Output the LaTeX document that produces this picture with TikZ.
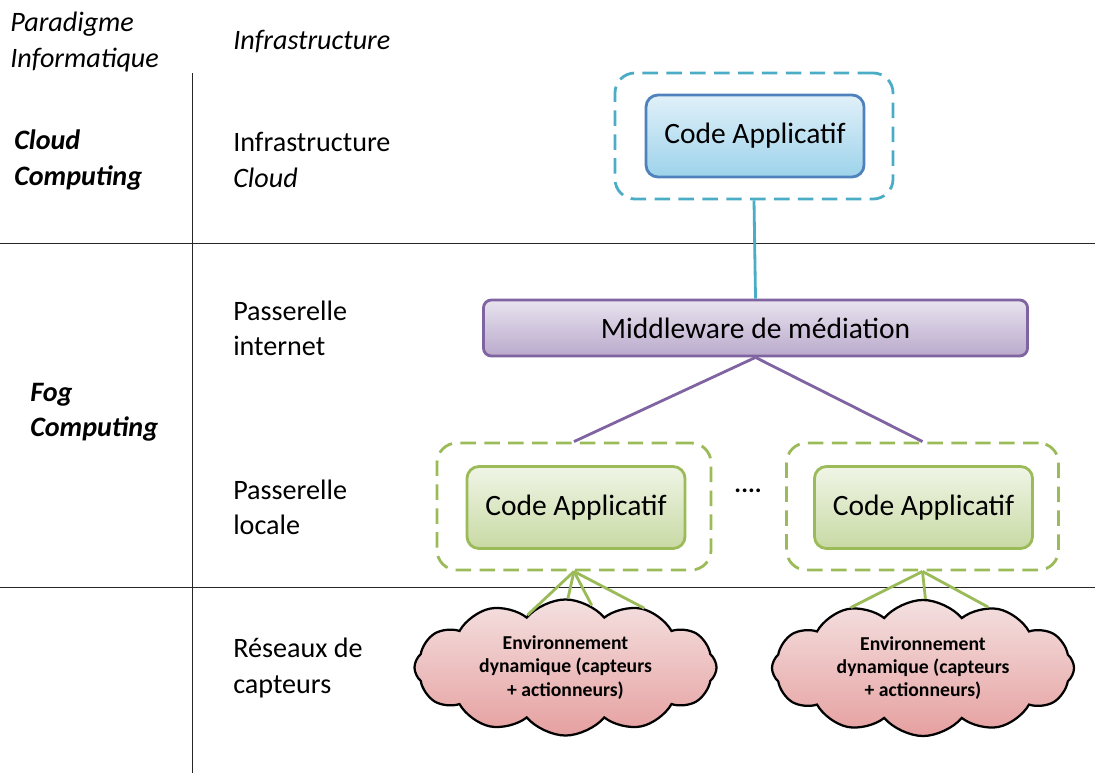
\documentclass[tikz,border=0pt]{standalone}
\usepackage{fontspec}
\setmainfont{Carlito}
\usetikzlibrary{shapes.symbols}
\definecolor{cloudline}{HTML}{4BACC6}
\definecolor{appblue}{HTML}{4F81BD}
\definecolor{apptop}{HTML}{E0F0F9}
\definecolor{appbot}{HTML}{9DD3EA}
\definecolor{mwline}{HTML}{8064A2}
\definecolor{fogline}{HTML}{9BBB59}
\definecolor{envtop}{HTML}{F4E0E0}
\definecolor{envbot}{HTML}{E6A0A0}
\tikzset{
    sep/.style = {line width=0.7pt,black!85},
    layer/.style = {anchor=west,align=left,inner sep=0,font=\fontsize{20}{25}\selectfont},
    grp/.style = {draw,rounded corners=0.5cm,line width=2pt,dash pattern=on 11pt off 6pt},
    app/.style = {draw,rounded corners=0.3cm,line width=2pt,minimum width=5.45cm,minimum height=2.05cm,font=\fontsize{21}{25}\selectfont}
}
\tikzset{
    tier/.style = {line width=2pt},
    env/.style = {cloud,draw=black,line width=1.6pt,cloud puffs=12,cloud puff arc=100,
        cloud ignores aspect,minimum width=7.55cm,minimum height=3.4cm,align=center,
        top color=envtop,bottom color=envbot,
        font=\bfseries\fontsize{14}{16.5}\selectfont}
}

\begin{document}
\begin{tikzpicture}[x=0.025cm,y=-0.025cm]
        \newcommand\lx{233}
        \useasboundingbox (0,0) rectangle (1095,773);
        % Separators
        \path (0,243) coordinate (s1a) (1095,243) coordinate (s1b)
              (0,587) coordinate (s2a) (1095,587) coordinate (s2b)
              (192,73) coordinate (va) (192,773) coordinate (vb);
        \foreach \src/\dest in {s1a/s1b,s2a/s2b,va/vb}
            \draw[sep] (\src) -- (\dest);
        % Headers
        \node[layer,font=\itshape\fontsize{20}{25}\selectfont] (hpar) at (10,42) {Paradigme\\Informatique};
        \node[layer,font=\itshape\fontsize{20}{25}\selectfont] (hinf) at (\lx,42) {Infrastructure};
        % Paradigms
        \node[layer,font=\bfseries\itshape\fontsize{20}{25}\selectfont] (pcloud) at (14,160) {Cloud\\Computing};
        \node[layer,font=\bfseries\itshape\fontsize{20}{25}\selectfont] (pfog) at (30,412) {Fog\\Computing};
        % Infrastructures
        \node[layer] (icloud) at (\lx,160) {Infrastructure\\\textit{Cloud}};
        \node[layer] (iinet) at (\lx,328) {Passerelle\\internet};
        \node[layer] (iloc) at (\lx,507) {Passerelle\\locale};
        \node[layer] (icapt) at (\lx,668) {Réseaux de\\capteurs};
        % Cloud tier
        \node[grp,draw=cloudline,minimum width=6.95cm,minimum height=3.15cm] (gC) at (754,136) {};
        \node[app,draw=appblue,top color=apptop,bottom color=appbot] (appC) at (755,136) {Code Applicatif};
        % Mediation
        \node[draw=mwline,rounded corners=0.2cm,line width=2pt,minimum width=13.6cm,minimum height=1.4cm,
            top color=mwline!18,bottom color=mwline!55,font=\fontsize{21}{25}\selectfont] (mw) at (755.5,328) {Middleware de médiation};
        % Fog tier
        \node[grp,draw=fogline,minimum width=6.85cm,minimum height=3.175cm] (gL) at (574,506.5) {};
        \node[grp,draw=fogline,minimum width=6.8cm,minimum height=3.175cm] (gR) at (922.5,506.5) {};
        \node[app,draw=fogline,top color=fogline!15,bottom color=fogline!55] (appL) at (576,507.5) {Code Applicatif};
        \node[app,draw=fogline,top color=fogline!15,bottom color=fogline!55] (appR) at (923.5,507.5) {Code Applicatif};
        \node[font=\bfseries\fontsize{18}{20}\selectfont] (dots) at (748,491) {....};
        % Sensors
        \node[env] (envL) at (565.5,667.5) {Environnement\\dynamique (capteurs\\+ actionneurs)};
        \node[env] (envR) at (923,668) {Environnement\\dynamique (capteurs\\+ actionneurs)};
        % Links
        \draw[tier,cloudline] (gC.south) -- (mw.north);
        \foreach \dest in {gL,gR}
            \draw[tier,mwline] (mw.south) -- (\dest.north);
        \foreach \a in {126,88,67,37}
            \draw[tier,fogline] (gL.south) -- (envL.\a);
        \foreach \a in {140,88,43}
            \draw[tier,fogline] (gR.south) -- (envR.\a);
    \end{tikzpicture}
\end{document}
